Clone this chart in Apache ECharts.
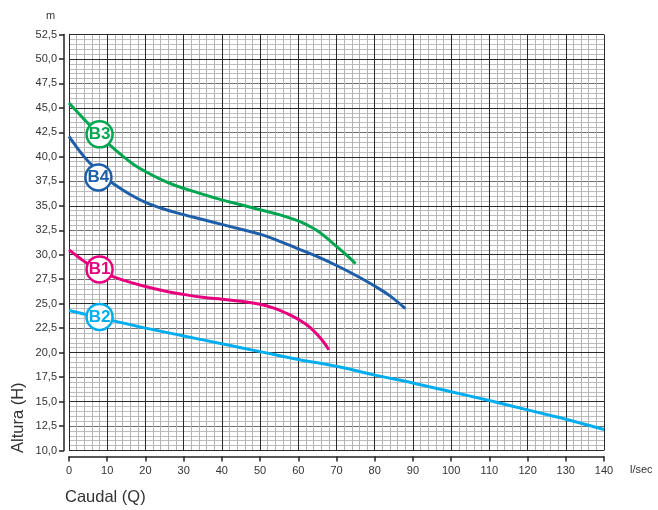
<!DOCTYPE html>
<html>
<head>
<meta charset="utf-8">
<script src="https://cdn.jsdelivr.net/npm/echarts@6/dist/echarts.min.js"></script>
<style>
  html, body { margin: 0; padding: 0; background: #fff; }
  #chart { width: 658px; height: 510px; }
</style>
</head>
<body>
<div id="chart"></div>
<script>
// Pump curves: flow Q (l/sec) vs head H (m)
const curveB3 = [[0,45.5],[5,43.4],[8,42.2],[11,41.1],[14,40.1],[17,39.2],[20,38.5],[24,37.7],[28,37.05],[34,36.3],[40,35.6],[45,35.1],[50,34.6],[55,34.1],[60,33.45],[62.5,33.0],[65,32.45],[67.5,31.7],[70,30.85],[72.5,30.0],[75,29.1]];
const curveB4 = [[0,42.1],[2,41.0],[4,40.0],[6,39.15],[8,38.4],[10,37.75],[12,37.15],[16,36.15],[20,35.35],[25,34.65],[30,34.1],[35,33.6],[40,33.1],[45,32.6],[50,32.1],[55,31.4],[60,30.6],[65,29.8],[70,28.9],[75,27.9],[80,26.8],[84,25.8],[88,24.5]];
const curveB1 = [[0,30.5],[2.5,29.75],[5,29.05],[8,28.4],[11,27.85],[15,27.3],[20,26.75],[25,26.3],[30,25.95],[35,25.65],[40,25.45],[45,25.25],[50,24.95],[54,24.5],[57,24.0],[60,23.4],[63,22.6],[66,21.4],[68,20.3]];
const curveB2 = [[0,24.3],[10,23.4],[20,22.5],[30,21.7],[40,20.9],[50,20.1],[60,19.3],[70,18.6],[80,17.7],[90,16.9],[100,16.0],[110,15.1],[120,14.15],[130,13.2],[140,12.15]];

// Curve badges
const badgeNames = ['B3', 'B4', 'B1', 'B2'];
const badgeQ = [8, 7.7, 8, 8];
const badgeH = [42.3, 37.9, 28.5, 23.65];

const colors = { B3: '#00a650', B4: '#1d5fa9', B1: '#e6007e', B2: '#00aeef' };

const qMin = 0, qMax = 140, qStep = 10;
const hMin = 10, hMax = 52.5, hStep = 2.5;

const chart = echarts.init(document.getElementById('chart'), null, { renderer: 'canvas' });

const curves = { B3: curveB3, B4: curveB4, B1: curveB1, B2: curveB2 };
const lineSeries = Object.keys(curves).map(k => ({
  type: 'line',
  name: k,
  data: curves[k],
  smooth: 0.4,
  showSymbol: false,
  symbol: 'none',
  lineStyle: { color: colors[k], width: 3 },
  z: 5
}));

const font = 'Liberation Sans, Arial, sans-serif';

const badgeSeries = badgeNames.map((n, i) => ({
  type: 'scatter',
  name: n + '-badge',
  data: [[badgeQ[i], badgeH[i]]],
  symbol: 'circle',
  symbolSize: 26,
  itemStyle: { color: '#fff', borderColor: colors[n], borderWidth: 2.5, opacity: 1 },
  label: {
    show: true, position: 'inside', formatter: n,
    color: colors[n], fontSize: 17, fontWeight: 'bold', fontFamily: font
  },
  z: 10
}));

chart.setOption({
  animation: false,
  backgroundColor: '#fff',
  grid: { left: 69, right: 54, top: 34.5, bottom: 59.5, containLabel: false },
  xAxis: [{
    type: 'value', min: qMin, max: qMax, interval: qStep,
    offset: 6,
    axisLine: { show: true, onZero: false, lineStyle: { color: '#222', width: 1.5 } },
    axisTick: { show: true, inside: false, length: 5, lineStyle: { color: '#222', width: 1.5 } },
    axisLabel: { color: '#333', fontSize: 11, fontFamily: font, margin: 9 },
    splitLine: { show: true, lineStyle: { color: '#2a2a2a', width: 1 } },
    minorTick: { show: false, splitNumber: 5 },
    minorSplitLine: { show: true, lineStyle: { color: '#b4b4b4', width: 1 } },
    z: 1
  }],
  yAxis: [{
    type: 'value', min: hMin, max: hMax, interval: hStep,
    offset: 5,
    axisLine: { show: true, onZero: false, lineStyle: { color: '#222', width: 1.5 } },
    axisTick: { show: true, inside: false, length: 5, lineStyle: { color: '#222', width: 1.5 } },
    axisLabel: {
      color: '#333', fontSize: 11, fontFamily: font, margin: 7,
      formatter: v => v.toFixed(1).replace('.', ',')
    },
    splitLine: { show: true, lineStyle: { color: '#707070', width: 1 } },
    minorTick: { show: false, splitNumber: 5 },
    minorSplitLine: { show: true, lineStyle: { color: '#bdbdbd', width: 1 } },
    z: 0
  }, {
    type: 'value', min: hMin, max: hMax, interval: 5,
    position: 'left',
    axisLine: { show: false }, axisTick: { show: false }, axisLabel: { show: false },
    splitLine: { show: true, lineStyle: { color: '#2a2a2a', width: 1 } },
    z: 2
  }],
  graphic: [
    { type: 'text', left: 46, top: 10, style: { text: 'm', fill: '#333', font: '11px ' + font } },
    { type: 'text', left: 630, top: 464, style: { text: 'l/sec', fill: '#333', font: '11px ' + font } },
    { type: 'text', left: 65, top: 489, style: { text: 'Caudal (Q)', fill: '#333', font: '16.5px ' + font } },
    { type: 'text', x: 10, y: 453, rotation: Math.PI / 2, style: { text: 'Altura (H)', fill: '#333', font: '16.5px ' + font } }
  ],
  series: [...lineSeries, ...badgeSeries]
});
</script>
</body>
</html>
